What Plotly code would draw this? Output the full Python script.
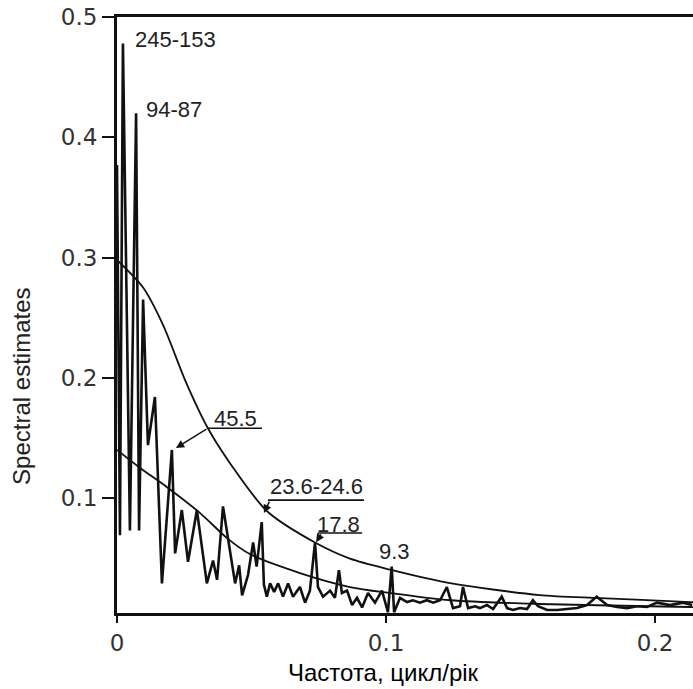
import plotly.graph_objects as go

# Spectral estimate of the series (frequency in cycles/year)
freq = [0.0000, 0.0011, 0.0022, 0.0048, 0.0071, 0.0082, 0.0097, 0.0115, 0.0141, 0.0167,
        0.0204, 0.0216, 0.0241, 0.0264, 0.0297, 0.0334, 0.0357, 0.0372, 0.0394, 0.0420,
        0.0439, 0.0454, 0.0465, 0.0487, 0.0506, 0.0519, 0.0538, 0.0546, 0.0557, 0.0569,
        0.0584, 0.0599, 0.0617, 0.0636, 0.0654, 0.0680, 0.0699, 0.0717, 0.0736, 0.0747,
        0.0766, 0.0792, 0.0810, 0.0825, 0.0836, 0.0855, 0.0874, 0.0892, 0.0911, 0.0933,
        0.0959, 0.0985, 0.0996, 0.1007, 0.1021, 0.1030, 0.1052, 0.1078, 0.1100, 0.1126,
        0.1152, 0.1175, 0.1201, 0.1226, 0.1249, 0.1275, 0.1286, 0.1305, 0.1331, 0.1349,
        0.1375, 0.1398, 0.1430, 0.1450, 0.1472, 0.1498, 0.1524, 0.1546, 0.1565, 0.1599,
        0.1636, 0.1673, 0.1710, 0.1747, 0.1783, 0.1822, 0.1859, 0.1896, 0.1933, 0.1970,
        0.2007, 0.2056, 0.2104, 0.2138]
spec = [0.377, 0.069, 0.478, 0.073, 0.420, 0.073, 0.265, 0.144, 0.184, 0.029,
        0.140, 0.054, 0.090, 0.047, 0.090, 0.029, 0.048, 0.032, 0.093, 0.054,
        0.029, 0.044, 0.019, 0.036, 0.063, 0.043, 0.080, 0.028, 0.018, 0.029,
        0.022, 0.029, 0.018, 0.029, 0.018, 0.026, 0.013, 0.023, 0.063, 0.026,
        0.018, 0.023, 0.017, 0.040, 0.021, 0.023, 0.011, 0.017, 0.009, 0.021,
        0.013, 0.023, 0.013, 0.005, 0.043, 0.005, 0.017, 0.0135, 0.015, 0.013,
        0.015, 0.013, 0.015, 0.026, 0.0085, 0.010, 0.026, 0.0085, 0.010, 0.0085,
        0.011, 0.0077, 0.018, 0.0085, 0.0069, 0.0085, 0.0077, 0.015, 0.010, 0.0069,
        0.0069, 0.0077, 0.0085, 0.011, 0.018, 0.011, 0.0094, 0.0085, 0.010, 0.0094,
        0.013, 0.011, 0.013, 0.011]

# Upper confidence curve
upper_f = [0.0, 0.0097, 0.0171, 0.0257, 0.0338, 0.0420, 0.0558, 0.0736, 0.0866,
           0.1015, 0.1238, 0.1570, 0.1796, 0.2130, 0.2141]
upper_s = [0.298, 0.275, 0.244, 0.196, 0.158, 0.129, 0.089, 0.063, 0.0496,
           0.0405, 0.0293, 0.0193, 0.0168, 0.0135, 0.0134]

# Lower (background) curve
lower_f = [0.0, 0.0086, 0.0186, 0.0309, 0.0409, 0.0494, 0.0680, 0.0866, 0.1015,
           0.1240, 0.1570, 0.2130, 0.2141]
lower_s = [0.140, 0.125, 0.109, 0.0875, 0.0667, 0.0534, 0.0376, 0.026, 0.021,
           0.015, 0.0119, 0.0094, 0.0093]

# Period labels (years) and their positions
label_text = ["245-153", "94-87", "45.5", "23.6-24.6", "17.8", "9.3"]
label_x = [0.0219, 0.0212, 0.0442, 0.0740, 0.0822, 0.1030]
label_y = [0.4817, 0.4227, 0.1665, 0.1092, 0.0784, 0.0559]

# Underlines below labels: (x0, x1, y)
underlines = [(0.0335, 0.0539, 0.1580), (0.0561, 0.0918, 0.0983), (0.0747, 0.0911, 0.0709)]
# Pointer arrows: (tip x, tip y, tail x, tail y)
arrows = [(0.0219, 0.1416, 0.0338, 0.1580),
          (0.0546, 0.0875, 0.0569, 0.0983),
          (0.0740, 0.0633, 0.0762, 0.0709)]

INK = "#111111"

fig = go.Figure()
fig.add_trace(go.Scatter(x=upper_f, y=upper_s, mode="lines",
                         line=dict(color=INK, width=1.8, shape="spline", smoothing=0.8),
                         hoverinfo="skip", showlegend=False))
fig.add_trace(go.Scatter(x=lower_f, y=lower_s, mode="lines",
                         line=dict(color=INK, width=1.8, shape="spline", smoothing=0.8),
                         hoverinfo="skip", showlegend=False))
fig.add_trace(go.Scatter(x=freq, y=spec, mode="lines",
                         line=dict(color=INK, width=2.6),
                         showlegend=False))

for t, x, y in zip(label_text, label_x, label_y):
    fig.add_annotation(x=x, y=y, text=t, showarrow=False,
                       font=dict(family="Liberation Sans, Arial", size=22, color="#222"))

for x0, x1, y in underlines:
    fig.add_shape(type="line", x0=x0, x1=x1, y0=y, y1=y, xref="x", yref="y",
                  line=dict(color=INK, width=1.6))

for tx, ty, sx, sy in arrows:
    fig.add_annotation(x=tx, y=ty, ax=sx, ay=sy, axref="x", ayref="y", text="",
                       showarrow=True, arrowhead=2, arrowsize=1.1, arrowwidth=1.5,
                       arrowcolor=INK)

# Axis titles placed as free annotations
fig.add_annotation(text="Частота, цикл/рік", xref="paper", yref="paper",
                   x=0.462, y=-0.099, xanchor="center", yanchor="middle", showarrow=False,
                   font=dict(family="Liberation Sans, Arial", size=24, color="#000"))
fig.add_annotation(text="Spectral estimates", xref="paper", yref="paper",
                   x=-0.165, y=0.381, xanchor="center", yanchor="middle", showarrow=False,
                   textangle=-90,
                   font=dict(family="Liberation Sans, Arial", size=24, color="#222"))

tick_font = dict(family="DejaVu Sans", size=23, color="#333")

fig.update_layout(
    width=693, height=689,
    margin=dict(l=117, r=0, t=17, b=76),
    paper_bgcolor="white", plot_bgcolor="white",
    xaxis=dict(range=[0, 0.2141], tickvals=[0, 0.1, 0.2], ticktext=["0", "0.1", "0.2"],
               showgrid=False, zeroline=False, showline=True, linecolor=INK, linewidth=3,
               mirror=True, ticks="outside", ticklen=7, tickwidth=2, tickcolor=INK,
               tickfont=tick_font),
    yaxis=dict(range=[0.0044, 0.5], tickvals=[0.1, 0.2, 0.3, 0.4, 0.5],
               ticktext=["0.1", "0.2", "0.3", "0.4", "0.5"],
               showgrid=False, zeroline=False, showline=True, linecolor=INK, linewidth=3,
               ticks="outside", ticklen=12, tickwidth=2, tickcolor=INK,
               tickfont=tick_font),
)

fig.write_html("out.html")
